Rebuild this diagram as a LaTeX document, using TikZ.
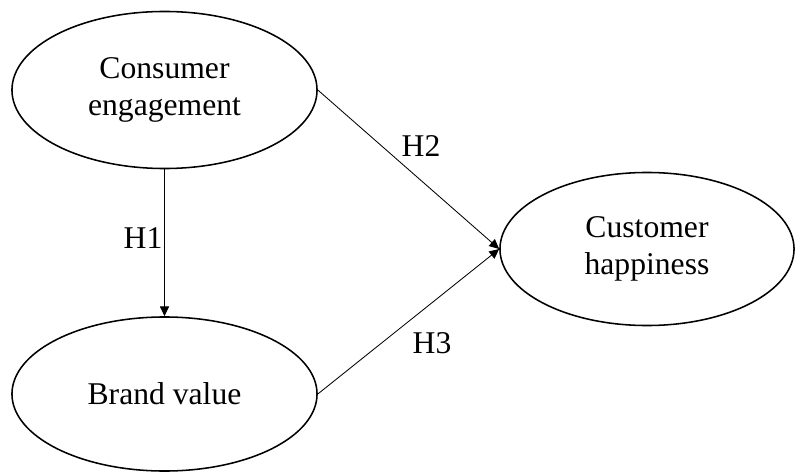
\documentclass[tikz,border=0pt]{standalone}
\usepackage{fontspec}
\setmainfont{Liberation Serif}
\usepackage{tikz}
\usetikzlibrary{arrows,arrows.meta}
\usetikzlibrary{shapes,shapes.arrows}
\tikzstyle{cnstr} = [draw, line width=1.1pt, shape=ellipse, inner sep=0pt, align=center, font=\fontsize{22.5}{26}\selectfont]
\tikzstyle{hyp} = [style={-{Triangle[length=7pt,width=6.5pt]},line width=0.6pt}]
\tikzstyle{hlbl} = [inner sep=0pt, font=\fontsize{22.5}{26}\selectfont]

\begin{document}
\begin{tikzpicture}[x=0.025cm,y=-0.025cm]
    \useasboundingbox (0,0) rectangle (795,472);
    \begin{scope}
      \node[cnstr, minimum width=7.625cm, minimum height=3.925cm] (ce) at (164.5,90) {Consumer\\engagement};
      \node[cnstr, minimum width=7.625cm, minimum height=3.85cm] (bv) at (164.5,394) {Brand value};
      \node[cnstr, minimum width=7.35cm, minimum height=3.825cm] (ch) at (647,249) {Customer\\happiness};
      \node[hlbl] (h1) at (143,238) {H1};
      \node[hlbl] (h2) at (421,146) {H2};
      \node[hlbl] (h3) at (432,343) {H3};
      \draw[hyp] (ce.south) -- (bv.north);
      \draw[hyp] (ce.east) -- (ch.west);
      \draw[hyp] (bv.east) -- (ch.west);
    \end{scope}
  \end{tikzpicture}
\end{document}
